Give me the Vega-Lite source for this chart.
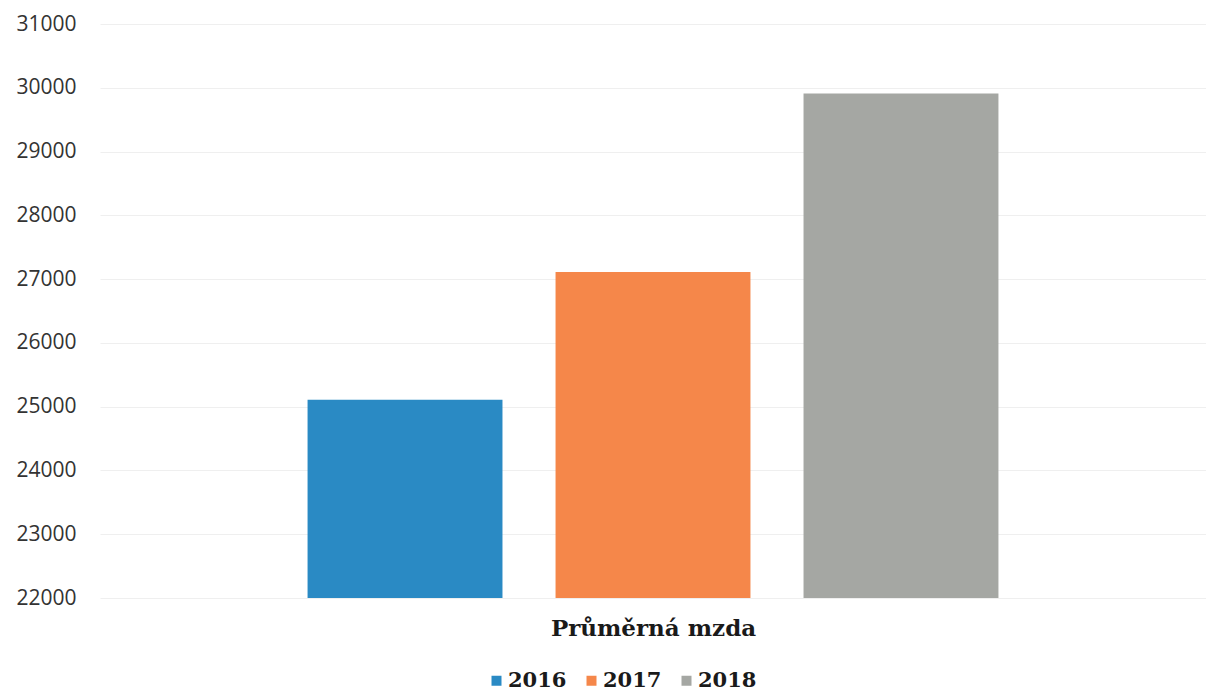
{
  "$schema": "https://vega.github.io/schema/vega-lite/v6.json",
  "width": 1106,
  "height": 574,
  "autosize": {"type": "none"},
  "padding": {"left": 100, "top": 24, "right": 0, "bottom": 94},
  "background": "white",
  "data": {"values": [
    {"rok": "2016", "mzda": 25110},
    {"rok": "2017", "mzda": 27110},
    {"rok": "2018", "mzda": 29910}
  ]},
  "mark": {"type": "bar", "clip": true},
  "encoding": {
    "x": {
      "field": "rok", "type": "nominal",
      "scale": {"paddingInner": 0.214, "paddingOuter": 0.837},
      "axis": {
        "title": "Průměrná mzda", "labels": false, "ticks": false, "domain": false,
        "titleFont": "DejaVu Serif", "titleFontWeight": "bold", "titleFontSize": 23,
        "titleColor": "#1a1a1a", "titlePadding": 19
      }
    },
    "y": {
      "field": "mzda", "type": "quantitative",
      "scale": {"domain": [22000, 31000], "nice": false, "zero": false},
      "axis": {
        "title": null, "values": [22000,23000,24000,25000,26000,27000,28000,29000,30000,31000],
        "format": "d", "domain": false, "ticks": false,
        "labelFont": "Open Sans", "labelFontSize": 21, "labelColor": "#333333",
        "labelPadding": 24, "grid": true, "gridColor": "#efefef", "gridWidth": 1
      }
    },
    "color": {
      "field": "rok", "type": "nominal",
      "scale": {"domain": ["2016", "2017", "2018"], "range": ["#2a8ac4", "#f5874a", "#a5a7a3"]},
      "legend": {
        "title": null, "orient": "none", "direction": "horizontal",
        "legendX": 386, "legendY": 646,
        "symbolType": "square", "symbolSize": 100, "symbolStrokeWidth": 0, "symbolOpacity": 1,
        "labelFont": "DejaVu Serif", "labelFontWeight": "bold", "labelFontSize": 21,
        "labelColor": "#1a1a1a", "columnPadding": 14, "labelOffset": 1
      }
    }
  },
  "config": {"view": {"stroke": null}}
}
